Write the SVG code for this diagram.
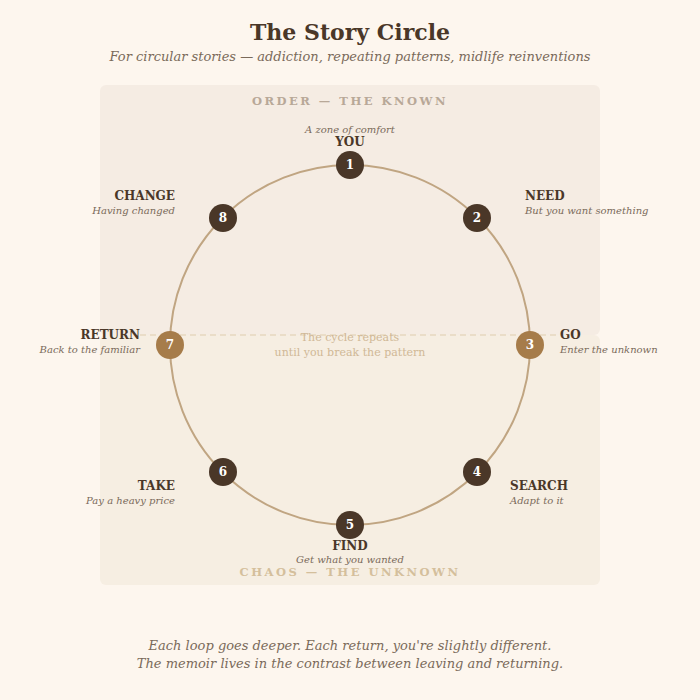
<svg xmlns="http://www.w3.org/2000/svg" width="700" height="700" viewBox="0 0 700 700">
<style>
text{font-family:"DejaVu Serif","Liberation Serif",serif}
.t{font-size:12px;font-weight:bold;fill:#4a3728}
.s{font-size:10px;font-style:italic;fill:#7a6a5a}
.n{font-size:12px;font-weight:bold;fill:#fff;text-anchor:middle}
.d{fill:#4a3728}.g{fill:#a67c4a}
</style>
<rect width="700" height="700" fill="#fdf6ee"/>
<rect x="100" y="85" width="500" height="250" rx="6" fill="#f5ece3"/>
<rect x="100" y="335" width="500" height="250" rx="6" fill="#f6eee2"/>
<text x="350" y="40" text-anchor="middle" font-size="22" font-weight="bold" fill="#4a3728">The Story Circle</text>
<text x="350" y="61" text-anchor="middle" font-size="13" font-style="italic" fill="#7a6a5a">For circular stories — addiction, repeating patterns, midlife reinventions</text>
<text x="350" y="105" text-anchor="middle" font-size="11.5" font-weight="bold" letter-spacing="2.5" fill="#b8a898">ORDER — THE KNOWN</text>
<text x="350" y="576" text-anchor="middle" font-size="11.5" font-weight="bold" letter-spacing="2.5" fill="#d4bf9c">CHAOS — THE UNKNOWN</text>
<g id="connectors">
<line x1="140" y1="335" x2="560" y2="335" stroke="#e6d8c0" stroke-width="1.5" stroke-dasharray="6,4"/>
<circle cx="350" cy="345" r="180" fill="none" stroke="#c0a582" stroke-width="2"/>
</g>
<text x="350" y="341" text-anchor="middle" font-size="11" fill="#d0b896">The cycle repeats</text>
<text x="350" y="356" text-anchor="middle" font-size="11" fill="#d0b896">until you break the pattern</text>
<g id="n1"><circle cx="350" cy="165" r="14" class="d"/><text x="350" y="169" class="n">1</text>
<text x="350" y="133" text-anchor="middle" class="s">A zone of comfort</text><text x="350" y="146" text-anchor="middle" class="t">YOU</text></g>
<g id="n2"><circle cx="477" cy="218" r="14" class="d"/><text x="477" y="222" class="n">2</text>
<text x="525" y="200" class="t">NEED</text><text x="525" y="214" class="s">But you want something</text></g>
<g id="n3"><circle cx="530" cy="345" r="14" class="g"/><text x="530" y="349" class="n">3</text>
<text x="560" y="339" class="t">GO</text><text x="560" y="353" class="s">Enter the unknown</text></g>
<g id="n4"><circle cx="477" cy="472" r="14" class="d"/><text x="477" y="476" class="n">4</text>
<text x="510" y="490" class="t">SEARCH</text><text x="510" y="504" class="s">Adapt to it</text></g>
<g id="n5"><circle cx="350" cy="525" r="14" class="d"/><text x="350" y="529" class="n">5</text>
<text x="350" y="550" text-anchor="middle" class="t">FIND</text><text x="350" y="563" text-anchor="middle" class="s">Get what you wanted</text></g>
<g id="n6"><circle cx="223" cy="472" r="14" class="d"/><text x="223" y="476" class="n">6</text>
<text x="175" y="490" text-anchor="end" class="t">TAKE</text><text x="175" y="504" text-anchor="end" class="s">Pay a heavy price</text></g>
<g id="n7"><circle cx="170" cy="345" r="14" class="g"/><text x="170" y="349" class="n">7</text>
<text x="140" y="339" text-anchor="end" class="t">RETURN</text><text x="140" y="353" text-anchor="end" class="s">Back to the familiar</text></g>
<g id="n8"><circle cx="223" cy="218" r="14" class="d"/><text x="223" y="222" class="n">8</text>
<text x="175" y="200" text-anchor="end" class="t">CHANGE</text><text x="175" y="214" text-anchor="end" class="s">Having changed</text></g>
<text x="350" y="650" text-anchor="middle" font-size="13" font-style="italic" fill="#7a6a5a">Each loop goes deeper. Each return, you're slightly different.</text>
<text x="350" y="668" text-anchor="middle" font-size="13" font-style="italic" fill="#7a6a5a">The memoir lives in the contrast between leaving and returning.</text>
</svg>
